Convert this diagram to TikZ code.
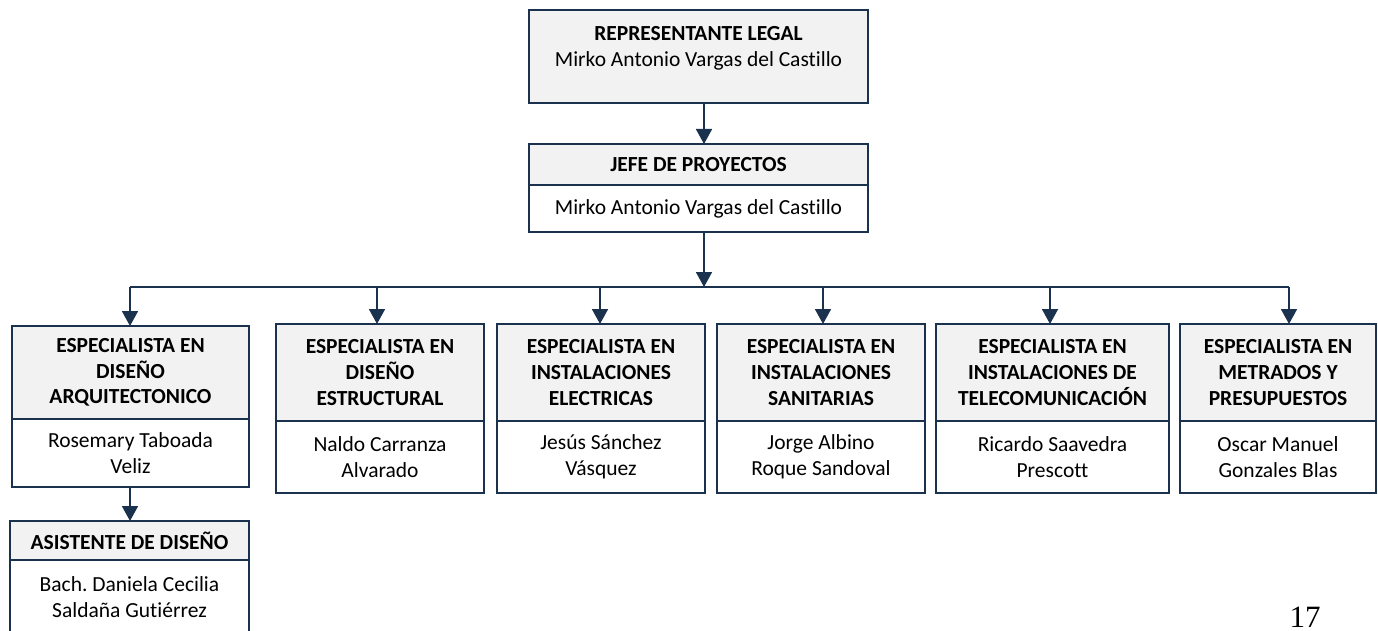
\documentclass[tikz,border=0pt]{standalone}
\usepackage{fontspec}
\setmainfont{Carlito}[Ligatures=NoCommon]
\newfontfamily\numfont{Liberation Serif}
\usetikzlibrary{arrows.meta,calc}
\definecolor{navy}{HTML}{1B324F}
\definecolor{hdrgray}{HTML}{F2F2F2}
\frenchspacing
\begin{document}
\begin{tikzpicture}[x=1pt,y=-1pt,
  every node/.style={font=\fontsize{21.5}{25.7}\selectfont, inner sep=0pt, outer sep=0pt},
  hdr/.style={draw=navy, line width=1.8pt, fill=hdrgray, align=center, anchor=north west, font=\fontsize{21.5}{25.7}\selectfont\bfseries},
  bod/.style={draw=navy, line width=1.8pt, fill=white, align=center, anchor=north west},
  arr/.style={draw=navy, line width=1.8pt, -{Triangle[width=16pt,length=15pt]}},
  bus/.style={draw=navy, line width=1.8pt}]
\useasboundingbox (0,0) rectangle (1378,631);
\begin{scope}
\clip (0,0) rectangle (1378,631);
% top
\node[hdr, font=\fontsize{21.5}{25.7}\selectfont, minimum width=339pt, minimum height=93pt] (top) at (529,10)
  {\textbf{REPRESENTANTE LEGAL}\\Mirko Antonio Vargas del Castillo\\[-14pt]\strut};
% jefe
\node[hdr, minimum width=339pt, minimum height=41pt] (jh) at (529,144) {JEFE DE PROYECTOS};
\node[bod, minimum width=339pt, minimum height=47pt] (jb) at (jh.south west) {Mirko Antonio Vargas del Castillo};
% specialists
\node[hdr, minimum width=237pt, minimum height=93pt] (h1) at (12,326) {ESPECIALISTA EN\\DISEÑO\\ARQUITECTONICO};
\node[bod, minimum width=237pt, minimum height=68pt] (b1) at (h1.south west) {Rosemary Taboada\\Veliz};
\node[hdr, minimum width=208pt, minimum height=97pt] (h2) at (276,324) {ESPECIALISTA EN\\DISEÑO\\ESTRUCTURAL};
\node[bod, minimum width=208pt, minimum height=72pt] (b2) at (h2.south west) {Naldo Carranza\\Alvarado};
\node[hdr, minimum width=208pt, minimum height=97pt] (h3) at (497,324) {ESPECIALISTA EN\\INSTALACIONES\\ELECTRICAS};
\node[bod, minimum width=208pt, minimum height=72pt] (b3) at (h3.south west) {Jesús Sánchez\\Vásquez};
\node[hdr, minimum width=208pt, minimum height=97pt] (h4) at (717,324) {ESPECIALISTA EN\\INSTALACIONES\\SANITARIAS};
\node[bod, minimum width=208pt, minimum height=72pt] (b4) at (h4.south west) {Jorge Albino\\Roque Sandoval};
\node[hdr, minimum width=233pt, minimum height=97pt] (h5) at (936,324) {ESPECIALISTA EN\\INSTALACIONES DE\\TELECOMUNICACIÓN};
\node[bod, minimum width=233pt, minimum height=72pt] (b5) at (h5.south west) {Ricardo Saavedra\\Prescott};
\node[hdr, minimum width=196pt, minimum height=97pt] (h6) at (1180,324) {ESPECIALISTA EN\\METRADOS Y\\PRESUPUESTOS};
\node[bod, minimum width=196pt, minimum height=72pt] (b6) at (h6.south west) {Oscar Manuel\\Gonzales Blas};
% assistant
\node[hdr, minimum width=239pt, minimum height=39pt] (ah) at (10,521) {ASISTENTE DE DISEÑO};
\node[bod, minimum width=239pt, minimum height=74pt, anchor=north west] (ab) at (ah.south west) {Bach. Daniela Cecilia\\Saldaña Gutiérrez};
% connectors
\coordinate (bus) at (704,287);
\coordinate (t1) at (130,287);
\coordinate (t2) at (377,287);
\coordinate (t3) at (600,287);
\coordinate (t4) at (823,287);
\coordinate (t5) at (1050,287);
\coordinate (t6) at (1289,287);
\draw[arr] (bus |- top.south) -- (bus |- jh.north);
\draw[arr] (bus |- jb.south) -- (bus);
\draw[bus] (t1) -- (t6);
\draw[arr] (t1) -- (t1 |- h1.north);
\draw[arr] (t2) -- (t2 |- h2.north);
\draw[arr] (t3) -- (t3 |- h3.north);
\draw[arr] (t4) -- (t4 |- h4.north);
\draw[arr] (t5) -- (t5 |- h5.north);
\draw[arr] (t6) -- (t6 |- h6.north);
\draw[arr] (b1.south -| t1) -- (t1 |- ah.north);
\end{scope}
\node[font=\numfont\fontsize{31}{31}\selectfont, anchor=base] (pg) at (1305,627) {17};
\end{tikzpicture}
\end{document}
